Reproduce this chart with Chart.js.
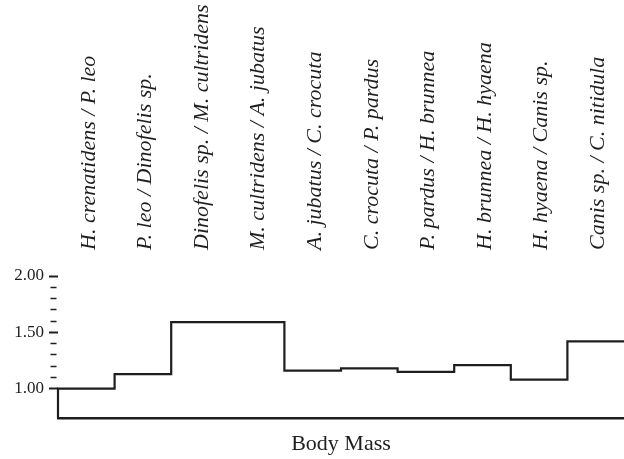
<!DOCTYPE html>
<html>
<head>
<meta charset="utf-8">
<script src="https://cdn.jsdelivr.net/npm/chart.js@4/dist/chart.umd.min.js"></script>
<style>
  html, body { margin: 0; padding: 0; background: #fff; }
  #wrap { width: 624px; height: 459px; }
</style>
</head>
<body>
<div id="wrap"><canvas id="c" width="624" height="459"></canvas></div>
<script>
// Species pairs compared along the body-mass sequence
const PAIRS = [
  'H. crenatidens / P. leo',
  'P. leo / Dinofelis sp.',
  'Dinofelis sp. / M. cultridens',
  'M. cultridens / A. jubatus',
  'A. jubatus / C. crocuta',
  'C. crocuta / P. pardus',
  'P. pardus / H. brunnea',
  'H. brunnea / H. hyaena',
  'H. hyaena / Canis sp.',
  'Canis sp. / C. nitidula'
];

// Ratio for each pair (one step per pair)
const RATIOS = [1.00, 1.13, 1.59, 1.59, 1.16, 1.18, 1.15, 1.21, 1.08, 1.42];

// Vertical axis range and tick values (labels every 0.5, minor marks every 0.1)
const Y_MIN = 0.74;
const Y_MAX = 2.00;
const Y_TICKS = [1.0, 1.1, 1.2, 1.3, 1.4, 1.5, 1.6, 1.7, 1.8, 1.9, 2.0];
const Y_LABELED = [1.0, 1.5, 2.0];

const isLabeled = v => Y_LABELED.some(m => Math.abs(m - v) < 1e-6);

// Step outline: rise from the baseline, one level per pair, run to the end
const stepPoints = [{ x: 0, y: Y_MIN }];
RATIOS.forEach((r, i) => stepPoints.push({ x: i, y: r }));
stepPoints.push({ x: RATIOS.length, y: RATIOS[RATIOS.length - 1] });

const INK = '#1e1e1e';

new Chart(document.getElementById('c'), {
  type: 'line',
  data: {
    datasets: [{
      data: stepPoints,
      stepped: 'before',
      borderColor: INK,
      borderWidth: 2.2,
      pointRadius: 0,
      fill: false,
      clip: 4,
      xAxisID: 'x',
      yAxisID: 'y'
    }]
  },
  options: {
    responsive: false,
    animation: false,
    devicePixelRatio: 1,
    layout: { padding: 0 },
    plugins: { legend: { display: false }, tooltip: { enabled: false } },
    scales: {
      x: {
        type: 'linear',
        position: 'bottom',
        min: 0,
        max: PAIRS.length,
        ticks: { display: false },
        grid: { display: false },
        border: { display: true, color: INK, width: 2.6 },
        title: {
          display: true,
          text: 'Body Mass',
          color: INK,
          font: { family: 'Liberation Serif', size: 22 },
          padding: { top: 0, bottom: 2 }
        },
        afterFit: s => { s.height = 41; }
      },
      pairs: {
        type: 'category',
        position: 'top',
        labels: PAIRS,
        offset: true,
        grid: { display: false },
        border: { display: false },
        ticks: {
          autoSkip: false,
          maxRotation: 90,
          minRotation: 90,
          padding: 18,
          labelOffset: 29,
          color: INK,
          font: { family: 'Liberation Serif', size: 22, style: 'italic' }
        },
        afterFit: s => { s.height = 276; }
      },
      y: {
        type: 'linear',
        position: 'left',
        min: Y_MIN,
        max: Y_MAX,
        afterBuildTicks: s => { s.ticks = Y_TICKS.map(v => ({ value: v })); },
        afterFit: s => { s.width = 58; },
        border: { display: false },
        grid: {
          drawOnChartArea: false,
          drawTicks: true,
          tickLength: 9,
          tickColor: INK,
          tickWidth: ctx => (ctx.tick && isLabeled(ctx.tick.value)) ? 2 : 1.6,
          tickBorderDash: ctx => (ctx.tick && isLabeled(ctx.tick.value)) ? [] : [0, 1.5, 6, 20]
        },
        ticks: {
          autoSkip: false,
          padding: 5,
          color: INK,
          font: { family: 'Liberation Serif', size: 17 },
          callback: v => isLabeled(v) ? v.toFixed(2) : ''
        }
      }
    }
  }
});
</script>
</body>
</html>
